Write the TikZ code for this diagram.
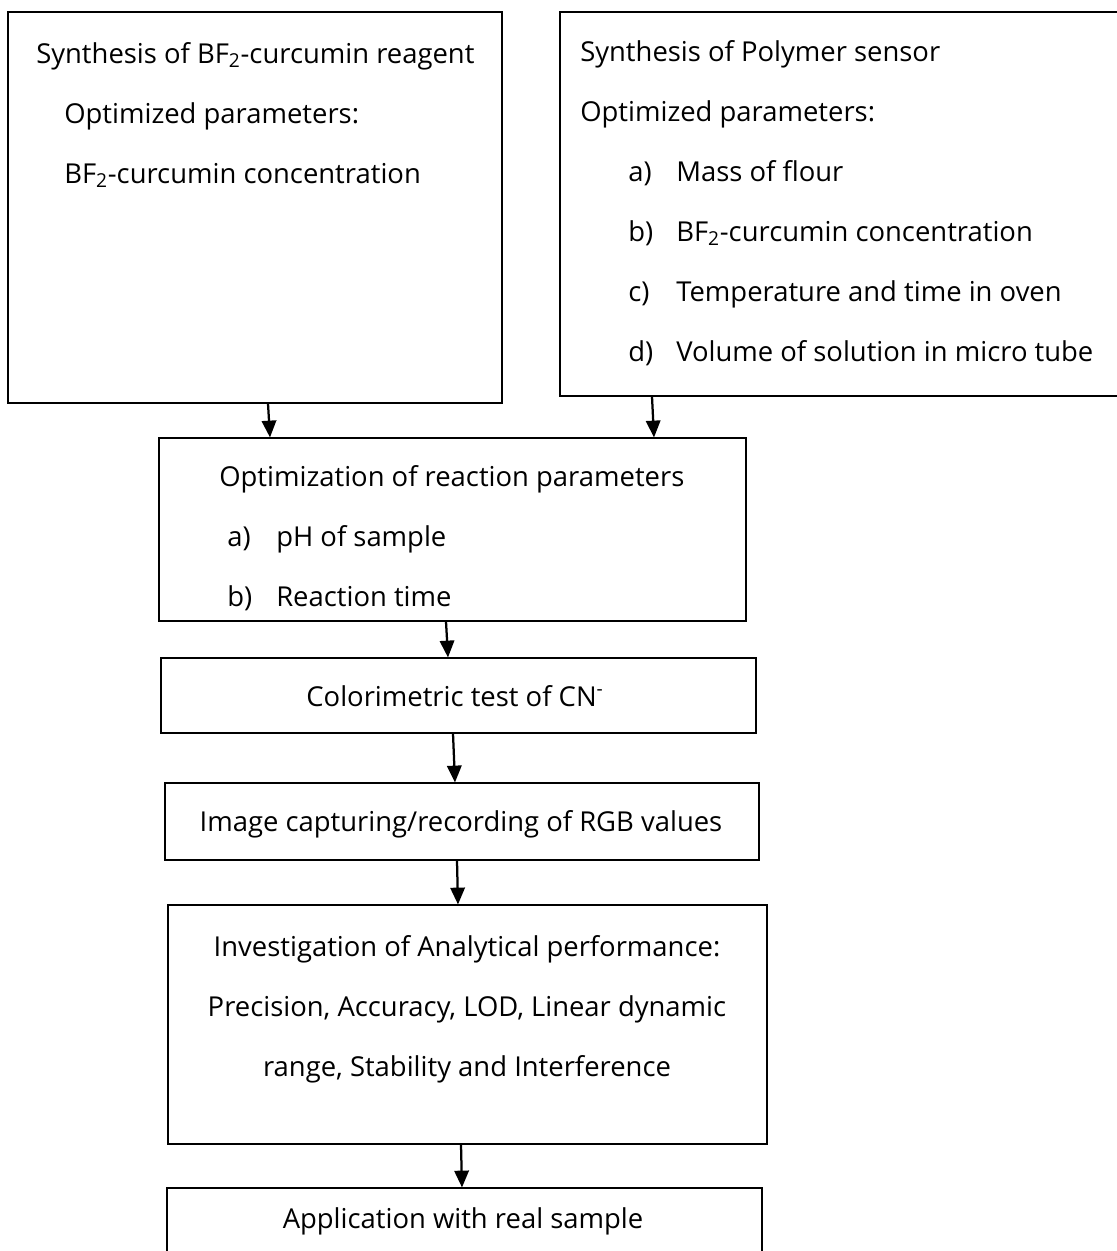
\documentclass[tikz,border=0pt]{standalone}
\usepackage{fontspec}
\setmainfont{Open Sans}
\usetikzlibrary{fit,arrows.meta}

\begin{document}
\begin{tikzpicture}[x=0.025cm,y=-0.025cm,
  font=\fontsize{19.5}{42.7}\selectfont,
  box/.style={draw=black, line width=0.8pt, inner sep=0pt},
  txt/.style={inner sep=0pt, anchor=base west},
  ctxt/.style={inner sep=0pt, anchor=base},
  arr/.style={line width=1.6pt, -{Triangle[length=0.42cm,width=0.36cm]}}]
 \useasboundingbox (0,0) rectangle (1117,1251);

 \node[box, fit={(8,12) (502,403)}] (reag) {};
 \node[box, fit={(560,12) (1200,396)}] (poly) {};
 \node[box, fit={(159,438) (746,621)}] (optim) {};
 \node[box, fit={(161,658) (756,733)}] (color) {};
 \node[box, fit={(165,783) (759,860)}] (image) {};
 \node[box, fit={(168,905) (767,1144)}] (invest) {};
 \node[box, fit={(167,1188) (762,1300)}] (appl) {};

 \node[txt] (reagtxt) at (36,63) {%
\begin{tabular}[t]{@{}l@{}}
  Synthesis of BF\textsubscript{2}-curcumin reagent\\
  \hspace*{0.7cm}Optimized parameters:\\
  \hspace*{0.7cm}BF\textsubscript{2}-curcumin concentration
\end{tabular}};
 \node[txt] (polytxt) at (580,61) {%
\begin{tabular}[t]{@{}l@{}}
  Synthesis of Polymer sensor\\
  Optimized parameters:\\
  \hspace*{1.2cm}\makebox[1.2cm][l]{a)}Mass of flour\\
  \hspace*{1.2cm}\makebox[1.2cm][l]{b)}BF\textsubscript{2}-curcumin concentration\\
  \hspace*{1.2cm}\makebox[1.2cm][l]{c)}Temperature and time in oven\\
  \hspace*{1.2cm}\makebox[1.2cm][l]{d)}Volume of solution in micro tube
\end{tabular}};
 \node[txt] (optimtxt) at (219,486) {%
\begin{tabular}[t]{@{}l@{}}
  Optimization of reaction parameters\\
  \hspace*{0.2cm}\makebox[1.225cm][l]{a)}pH of sample\\
  \hspace*{0.2cm}\makebox[1.225cm][l]{b)}Reaction time
\end{tabular}};
 \node[ctxt] (colortxt) at (455,706) {Colorimetric test of CN\textsuperscript{-}};
 \node[ctxt] (imagetxt) at (461,831) {Image capturing/recording of RGB values};
 \node[ctxt] (investtxt) at (467,956) {%
\begin{tabular}[t]{@{}c@{}}
  Investigation of Analytical performance:\\
  Precision, Accuracy, LOD, Linear dynamic\\
  range, Stability and Interference
\end{tabular}};
 \node[ctxt] (appltxt) at (463,1228) {Application with real sample};

 \draw[arr] (reag.south -| 268,0) -- (optim.north -| 270,0);
 \draw[arr] (poly.south -| 652,0) -- (optim.north -| 654,0);
 \draw[arr] (optim.south -| 446,0) -- (color.north -| 448,0);
 \draw[arr] (color.south -| 453,0) -- (image.north -| 455,0);
 \draw[arr] (image.south -| 457,0) -- (invest.north -| 458,0);
 \draw[arr] (invest.south -| 461,0) -- (appl.north -| 462,0);
\end{tikzpicture}
\end{document}
